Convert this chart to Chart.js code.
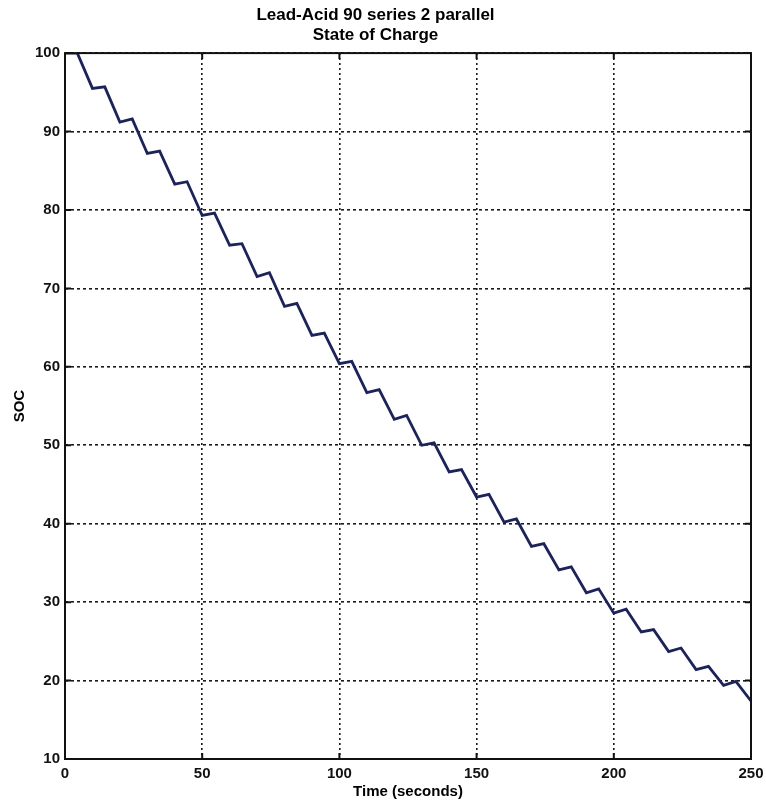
<!DOCTYPE html>
<html lang="en">
<head>
  <meta charset="UTF-8">
  <title>Lead-Acid SOC</title>
  <style>
    body { margin: 0; background: #fff; }
    #wrap { width: 766px; height: 801px; }
  </style>
</head>
<body>
<div id="wrap">
  <canvas id="myChart" width="766" height="801"></canvas>
</div>

<script src="https://cdn.jsdelivr.net/npm/chart.js"></script>
<script>
// values (corner points of the staircase)
const timeSec = [0, 4.5, 10, 14.5, 20, 24.5, 30, 34.5, 40, 44.5,
  50, 54.5, 60, 64.5, 70, 74.5, 80, 84.5, 90, 94.5,
  100, 104.5, 110, 114.5, 120, 124.5, 130, 134.5, 140, 144.5,
  150, 154.5, 160, 164.5, 170, 174.5, 180, 184.5, 190, 194.5,
  200, 204.5, 210, 214.5, 220, 224.5, 230, 234.5, 240, 244.5, 250];
const socPct = [100, 100, 95.5, 95.7, 91.2, 91.6, 87.2, 87.5, 83.3, 83.6,
  79.3, 79.6, 75.5, 75.7, 71.5, 72.0, 67.7, 68.1, 64.0, 64.3,
  60.4, 60.7, 56.7, 57.1, 53.3, 53.8, 50.0, 50.3, 46.6, 46.9,
  43.4, 43.75, 40.2, 40.6, 37.1, 37.45, 34.1, 34.5, 31.2, 31.7,
  28.6, 29.1, 26.2, 26.5, 23.7, 24.15, 21.4, 21.8, 19.4, 19.9, 17.4];

const xTicks = [0, 50, 100, 150, 200, 250];
const yTicks = [10, 20, 30, 40, 50, 60, 70, 80, 90, 100];

const titleLines = ['Lead-Acid 90 series 2 parallel', 'State of Charge'];
const xLabel = 'Time (seconds)';
const yLabel = 'SOC';

const points = timeSec.map((t, i) => ({ x: t, y: socPct[i] }));

const FONT = '"Liberation Sans", Arial, sans-serif';

// box round the plot with little inward ticks, like matlab
const boxPlugin = {
  id: 'boxPlugin',
  afterDraw(chart) {
    const ctx = chart.ctx;
    const a = chart.chartArea;
    const xs = chart.scales.x, ys = chart.scales.y;
    ctx.save();
    ctx.strokeStyle = '#111';
    ctx.lineWidth = 2;
    ctx.setLineDash([]);
    ctx.strokeRect(a.left, a.top, a.right - a.left, a.bottom - a.top);
    ctx.beginPath();
    xTicks.forEach(v => {
      const px = xs.getPixelForValue(v);
      ctx.moveTo(px, a.bottom); ctx.lineTo(px, a.bottom - 6);
      ctx.moveTo(px, a.top); ctx.lineTo(px, a.top + 6);
    });
    yTicks.forEach(v => {
      const py = ys.getPixelForValue(v);
      ctx.moveTo(a.left, py); ctx.lineTo(a.left + 6, py);
      ctx.moveTo(a.right, py); ctx.lineTo(a.right - 6, py);
    });
    ctx.stroke();
    ctx.restore();
  }
};

const ctx = document.getElementById('myChart');

var chart = new Chart(ctx, {
  type: 'line',
  data: {
    datasets: [{
      label: yLabel,
      data: points,
      borderColor: '#1a2262',
      borderWidth: 2.8,
      pointRadius: 0,
      fill: false,
      tension: 0
    }]
  },
  options: {
    responsive: false,
    animation: false,
    layout: { padding: { top: 0, right: 15, bottom: 0, left: 0 } },
    plugins: {
      legend: { display: false },
      tooltip: { enabled: false },
      title: {
        display: true,
        text: titleLines,
        color: '#000',
        font: { family: FONT, size: 17, weight: 'bold', lineHeight: 1.15 },
        padding: { top: 6, bottom: 8 }
      }
    },
    scales: {
      x: {
        type: 'linear',
        min: 0,
        max: 250,
        afterBuildTicks: s => { s.ticks = xTicks.map(v => ({ value: v })); },
        afterFit: s => { s.height = 42; s.paddingLeft = 0; s.paddingRight = 0; },
        ticks: {
          color: '#111',
          padding: 6,
          maxRotation: 0,
          font: { family: FONT, size: 15, weight: 'bold' }
        },
        grid: { color: '#1a1a1a', lineWidth: 1.6, drawTicks: false },
        border: { display: false, dash: [2, 3] },
        title: {
          display: true,
          text: xLabel,
          color: '#000',
          font: { family: FONT, size: 15, weight: 'bold' },
          padding: { top: 0, bottom: 0 }
        }
      },
      y: {
        type: 'linear',
        min: 10,
        max: 100,
        afterBuildTicks: s => { s.ticks = yTicks.map(v => ({ value: v })); },
        afterFit: s => { s.width = 65; },
        ticks: {
          color: '#111',
          padding: 5,
          font: { family: FONT, size: 15, weight: 'bold' }
        },
        grid: { color: '#1a1a1a', lineWidth: 1.6, drawTicks: false },
        border: { display: false, dash: [3, 3] },
        title: {
          display: true,
          text: yLabel,
          color: '#000',
          font: { family: FONT, size: 15, weight: 'bold' },
          padding: { top: 11, bottom: 0 }
        }
      }
    }
  },
  plugins: [boxPlugin]
});
</script>
</body>
</html>
